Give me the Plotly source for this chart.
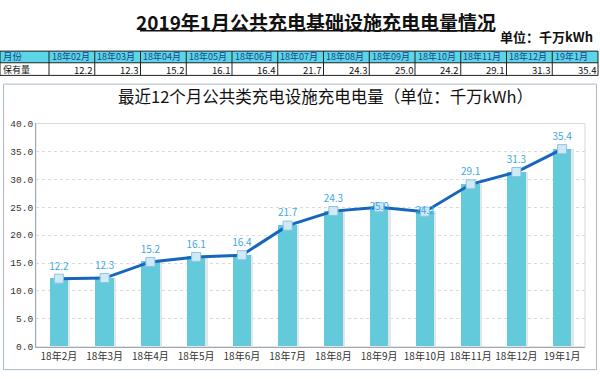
import plotly.graph_objects as go

# ---------------- data ----------------
table_months = ["18年02月", "18年03月", "18年04月", "18年05月", "18年06月", "18年07月",
                "18年08月", "18年09月", "18年10月", "18年11月", "18年12月", "19年1月"]
axis_months = ["18年2月", "18年3月", "18年4月", "18年5月", "18年6月", "18年7月",
               "18年8月", "18年9月", "18年10月", "18年11月", "18年12月", "19年1月"]
values = [12.2, 12.3, 15.2, 16.1, 16.4, 21.7, 24.3, 25.0, 24.2, 29.1, 31.3, 35.4]
y_ticks = [0, 5, 10, 15, 20, 25, 30, 35, 40]

W, H = 600, 379
FONT = "Noto Sans CJK SC"


def px(x):
    return x / W


def py(y):
    return 1 - y / H


fig = go.Figure()

# bar shadow
fig.add_trace(go.Bar(
    x=axis_months, y=values, width=0.45, offset=-0.2,
    marker=dict(color="#E3E6E9", line=dict(width=0)),
    hoverinfo="skip", showlegend=False))
# bars
fig.add_trace(go.Bar(
    x=axis_months, y=values, width=0.4, offset=-0.2,
    marker=dict(color="#62CADB", line=dict(width=0)),
    showlegend=False))
# line
text_pos = ["middle center" if v in (25.0, 24.2) else "top center" for v in values]
fig.add_trace(go.Scatter(
    x=axis_months, y=values, mode="lines+markers+text",
    line=dict(color="#1766BE", width=3),
    marker=dict(symbol="square", size=9, color="#CFE9F6",
                line=dict(color="#8DC3E2", width=1)),
    text=[f"{v:.1f}" for v in values], textposition=text_pos,
    textfont=dict(family=FONT, size=10, color="#3DA8E2"),
    showlegend=False))

shapes = []
annotations = []

# ---------------- title ----------------
annotations.append(dict(
    x=px(316), y=py(17), xref="paper", yref="paper", showarrow=False,
    text="<b>2019年1月公共充电基础设施充电电量情况</b>",
    font=dict(family=FONT, size=19, color="#111111"),
    xanchor="center", yanchor="middle"))
shapes.append(dict(type="line", xref="paper", yref="paper",
                   x0=px(140), x1=px(493), y0=py(26.5), y1=py(26.5),
                   line=dict(color="#111111", width=1.5)))
annotations.append(dict(
    x=px(595), y=py(32), xref="paper", yref="paper", showarrow=False,
    text="<b>单位：千万kWh</b>",
    font=dict(family=FONT, size=13, color="#111111"),
    xanchor="right", yanchor="middle"))

# ---------------- table ----------------
t_top, t_mid, t_bot = 47.5, 59.5, 72.5
head_y, val_y = 53.0, 66.5
col_edges = [0, 49] + [49 + 45.75 * (i + 1) for i in range(len(table_months))]
shapes.append(dict(type="rect", xref="paper", yref="paper",
                   x0=px(col_edges[0]), x1=px(col_edges[-1]), y0=py(t_top), y1=py(t_mid),
                   fillcolor="#5CD5E6", line=dict(width=0), layer="below"))
for yy in (t_top, t_mid, t_bot):
    shapes.append(dict(type="line", xref="paper", yref="paper",
                       x0=px(col_edges[0]), x1=px(col_edges[-1]), y0=py(yy), y1=py(yy),
                       line=dict(color="#222222", width=1)))
for xx in col_edges:
    shapes.append(dict(type="line", xref="paper", yref="paper",
                       x0=px(xx), x1=px(xx), y0=py(t_top), y1=py(t_bot),
                       line=dict(color="#222222", width=1)))
annotations.append(dict(x=px(2), y=py(head_y), xref="paper", yref="paper",
                        showarrow=False, text="月份", xanchor="left", yanchor="middle",
                        borderpad=0, font=dict(family=FONT, size=9.5, color="#1C3F8C")))
annotations.append(dict(x=px(2), y=py(val_y), xref="paper", yref="paper",
                        showarrow=False, text="保有量", xanchor="left", yanchor="middle",
                        borderpad=0, font=dict(family=FONT, size=9, color="#111111")))
for i, (m, v) in enumerate(zip(table_months, values)):
    left, right = col_edges[i + 1], col_edges[i + 2]
    annotations.append(dict(x=px(left + 1.5), y=py(head_y), xref="paper", yref="paper",
                            showarrow=False, text=m, xanchor="left", yanchor="middle",
                            borderpad=0, font=dict(family=FONT, size=9, color="#1C3F8C")))
    annotations.append(dict(x=px(right - 1.5), y=py(val_y), xref="paper", yref="paper",
                            showarrow=False, text=f"{v:.1f}", xanchor="right", yanchor="middle",
                            borderpad=0, font=dict(family=FONT, size=9.5, color="#111111")))

# ---------------- chart panel ----------------
shapes.append(dict(type="rect", xref="paper", yref="paper",
                   x0=px(3.5), x1=px(596.5), y0=py(81.5), y1=py(375.5),
                   line=dict(color="#A9B7C6", width=1), fillcolor="rgba(0,0,0,0)", layer="below"))
annotations.append(dict(
    x=px(325), y=py(94), xref="paper", yref="paper", showarrow=False,
    text="最近12个月公共类充电设施充电电量（单位：千万kWh）",
    font=dict(family=FONT, size=16.5, color="#111111"),
    xanchor="center", yanchor="middle"))
# plot-area frame
shapes.append(dict(type="rect", xref="paper", yref="paper",
                   x0=px(36), x1=px(585), y0=py(352), y1=py(122),
                   line=dict(color="#D5DBE1", width=1), fillcolor="rgba(0,0,0,0)", layer="below"))

fig.update_layout(
    width=W, height=H,
    margin=dict(l=0, r=0, t=0, b=0),
    paper_bgcolor="white", plot_bgcolor="white",
    barmode="overlay", bargap=0,
    shapes=shapes, annotations=annotations,
    font=dict(family=FONT),
    xaxis=dict(domain=[px(36), px(585)], range=[-0.5, len(axis_months) - 0.5],
               tickfont=dict(family=FONT, size=10, color="#333333"),
               showgrid=False, showline=True, linecolor="#A0A8B0", linewidth=1,
               ticks="", zeroline=False, fixedrange=True),
    yaxis=dict(domain=[py(352), py(122)], range=[0, 40], tickvals=y_ticks,
               ticktext=[f"{t:.1f}" for t in y_ticks],
               tickfont=dict(family="Liberation Mono", size=9.5, color="#333333"),
               showgrid=True, gridcolor="#DADADA", griddash="dot", gridwidth=1,
               showline=True, linecolor="#A0A8B0", linewidth=1,
               ticks="", ticklen=0, zeroline=False, fixedrange=True),
)

fig.write_html("out.html", config={"displayModeBar": False},
               post_script="document.body.style.margin='0';document.body.style.overflow='hidden';")
